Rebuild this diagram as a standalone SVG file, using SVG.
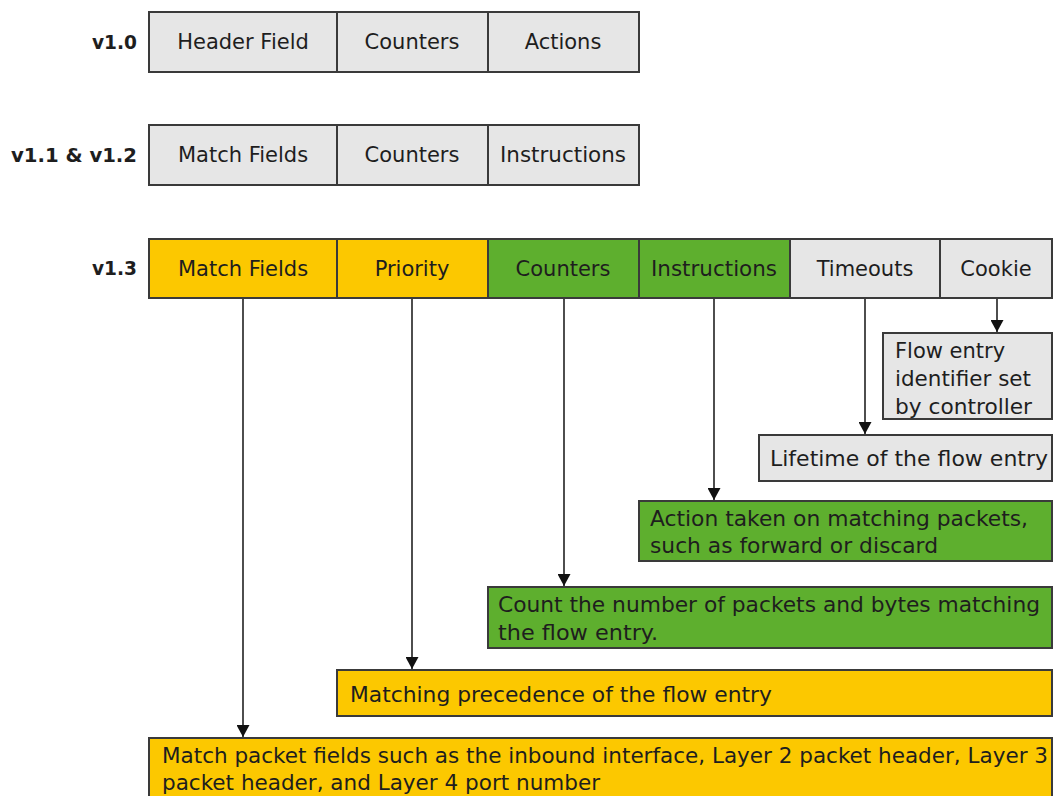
<svg xmlns="http://www.w3.org/2000/svg" width="1054" height="796" viewBox="0 0 1054 796">
  <defs>
    <style>
      .cell { stroke: #3a3a3a; stroke-width: 2; }
      .grey { fill: #e6e6e6; }
      .yellow { fill: #fcc800; }
      .green { fill: #5eaf2e; }
      text { font-family: "DejaVu Sans", "Noto Sans", sans-serif; font-size: 21px; fill: #1e1e1e; }
      .c { text-anchor: middle; }
      .ver { font-weight: bold; text-anchor: end; font-size: 20px; }
      .link { stroke: #3a3a3a; stroke-width: 1.8; fill: none; marker-end: url(#arrow); }
    </style>
    <marker id="arrow" viewBox="0 0 12 13" refX="12" refY="6.5" markerWidth="12" markerHeight="13" markerUnits="userSpaceOnUse" orient="auto">
      <path d="M0,0 L12,6.5 L0,13 Z" fill="#111111"/>
    </marker>
  </defs>

  <!-- version labels -->
  <g id="labels">
    <text class="ver" x="137" y="49" textLength="45" lengthAdjust="spacingAndGlyphs">v1.0</text>
    <text class="ver" x="137" y="162" textLength="126" lengthAdjust="spacingAndGlyphs">v1.1 &amp; v1.2</text>
    <text class="ver" x="137" y="275" textLength="45" lengthAdjust="spacingAndGlyphs">v1.3</text>
  </g>

  <!-- v1.0 flow table entry -->
  <g id="row-v10">
    <rect class="cell grey" x="149" y="12" width="188" height="60"/>
    <rect class="cell grey" x="337" y="12" width="151" height="60"/>
    <rect class="cell grey" x="488" y="12" width="151" height="60"/>
    <text class="c" x="243" y="49">Header Field</text>
    <text class="c" x="412" y="49">Counters</text>
    <text class="c" x="563" y="49">Actions</text>
  </g>

  <!-- v1.1 / v1.2 flow table entry -->
  <g id="row-v11">
    <rect class="cell grey" x="149" y="125" width="188" height="60"/>
    <rect class="cell grey" x="337" y="125" width="151" height="60"/>
    <rect class="cell grey" x="488" y="125" width="151" height="60"/>
    <text class="c" x="243" y="162">Match Fields</text>
    <text class="c" x="412" y="162">Counters</text>
    <text class="c" x="563" y="162" textLength="126" lengthAdjust="spacingAndGlyphs">Instructions</text>
  </g>

  <!-- v1.3 flow table entry -->
  <g id="row-v13">
    <rect class="cell yellow" x="149" y="239" width="188" height="59"/>
    <rect class="cell yellow" x="337" y="239" width="151" height="59"/>
    <rect class="cell green" x="488" y="239" width="151" height="59"/>
    <rect class="cell green" x="639" y="239" width="151" height="59"/>
    <rect class="cell grey" x="790" y="239" width="150" height="59"/>
    <rect class="cell grey" x="940" y="239" width="112" height="59"/>
    <text class="c" x="243" y="276">Match Fields</text>
    <text class="c" x="412" y="276">Priority</text>
    <text class="c" x="563" y="276">Counters</text>
    <text class="c" x="714" y="276" textLength="126" lengthAdjust="spacingAndGlyphs">Instructions</text>
    <text class="c" x="865" y="276">Timeouts</text>
    <text class="c" x="996" y="276">Cookie</text>
  </g>

  <!-- field descriptions -->
  <g id="desc-cookie">
    <rect class="cell grey" x="883" y="333" width="169" height="86"/>
    <text x="895" y="358">Flow entry</text>
    <text x="895" y="386" textLength="136" lengthAdjust="spacingAndGlyphs">identifier set</text>
    <text x="895" y="414" textLength="137" lengthAdjust="spacingAndGlyphs">by controller</text>
  </g>
  <g id="desc-timeouts">
    <rect class="cell grey" x="759" y="435" width="293" height="46"/>
    <text x="770" y="466" textLength="278" lengthAdjust="spacingAndGlyphs">Lifetime of the flow entry</text>
  </g>
  <g id="desc-instructions">
    <rect class="cell green" x="639" y="501" width="413" height="60"/>
    <text x="650" y="526" textLength="378" lengthAdjust="spacingAndGlyphs">Action taken on matching packets,</text>
    <text x="650" y="553" textLength="288" lengthAdjust="spacingAndGlyphs">such as forward or discard</text>
  </g>
  <g id="desc-counters">
    <rect class="cell green" x="488" y="587" width="564" height="61"/>
    <text x="498" y="612" textLength="542" lengthAdjust="spacingAndGlyphs">Count the number of packets and bytes matching</text>
    <text x="498" y="640" textLength="160" lengthAdjust="spacingAndGlyphs">the flow entry.</text>
  </g>
  <g id="desc-priority">
    <rect class="cell yellow" x="337" y="670" width="715" height="46"/>
    <text x="350" y="702" textLength="422" lengthAdjust="spacingAndGlyphs">Matching precedence of the flow entry</text>
  </g>
  <g id="desc-match">
    <rect class="cell yellow" x="149" y="738" width="903" height="70"/>
    <text x="162" y="763" textLength="886" lengthAdjust="spacingAndGlyphs">Match packet fields such as the inbound interface, Layer 2 packet header, Layer 3</text>
    <text x="162" y="790" textLength="438" lengthAdjust="spacingAndGlyphs">packet header, and Layer 4 port number</text>
  </g>

  <!-- connectors from v1.3 fields to their descriptions -->
  <g id="connectors">
    <line class="link" x1="243" y1="299" x2="243" y2="737"/>
    <line class="link" x1="412" y1="299" x2="412" y2="669"/>
    <line class="link" x1="564" y1="299" x2="564" y2="586"/>
    <line class="link" x1="714" y1="299" x2="714" y2="500"/>
    <line class="link" x1="865" y1="299" x2="865" y2="434"/>
    <line class="link" x1="997" y1="299" x2="997" y2="332"/>
  </g>
</svg>
